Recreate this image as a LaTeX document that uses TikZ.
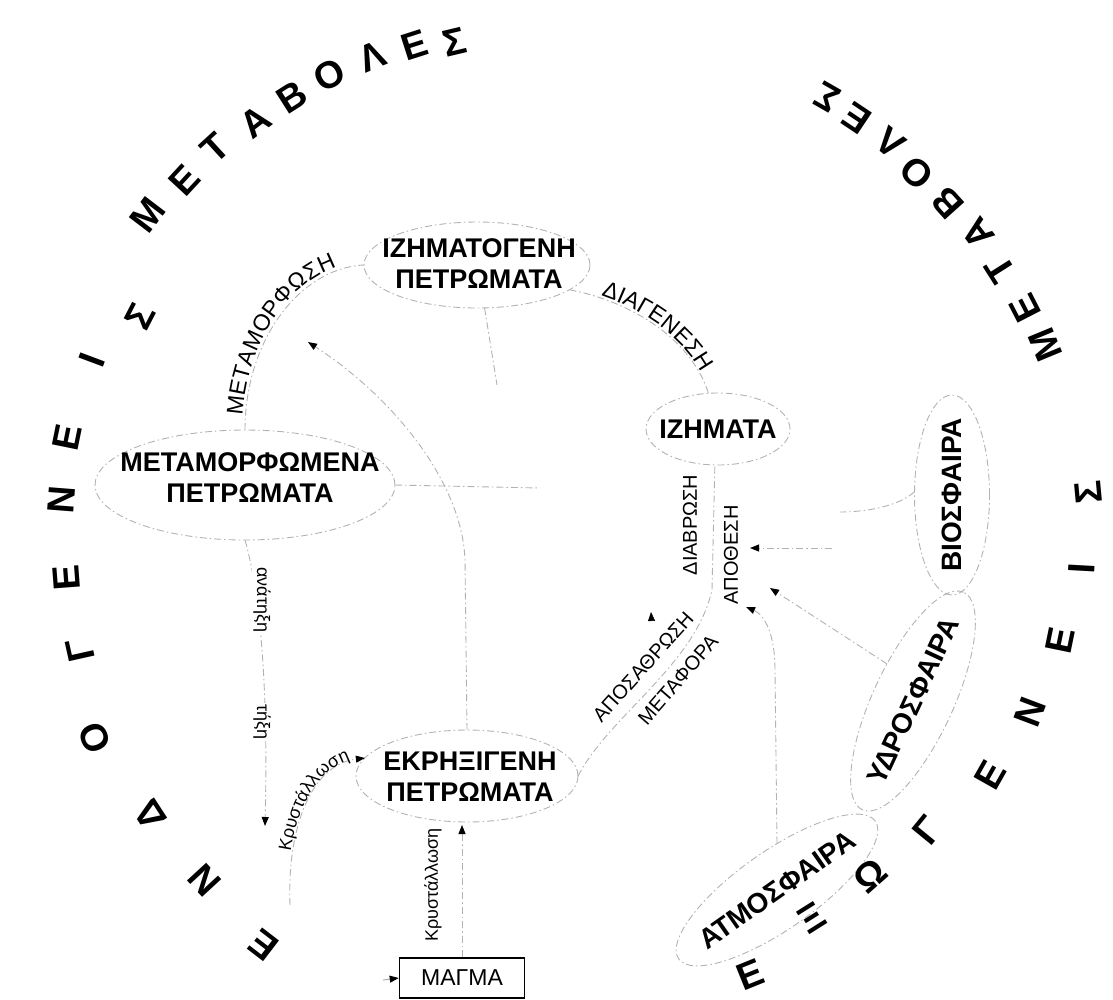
\documentclass[tikz,border=0pt]{standalone}
\usepackage{fontspec}
\setmainfont{Liberation Sans}
\usetikzlibrary{shapes.geometric,arrows.meta,decorations.text}
\newcommand{\lblfont}{\fontsize{20}{20}\selectfont}
\newcommand{\arcfont}{\fontsize{23}{23}\selectfont}
\newcommand{\lcfont}{\fontsize{18}{18}\selectfont}
\begin{document}
\begin{tikzpicture}[x=1pt,y=-1pt,
 conn/.style={draw=gray!60, line width=0.9pt, dash pattern=on 7pt off 3pt on 1.5pt off 3pt},
 tip/.style={-{Triangle[length=9pt,width=7pt,color=black]}},
 bubble/.style={ellipse, draw=gray!60, line width=0.9pt, dash pattern=on 7pt off 3pt on 1.5pt off 3pt, inner sep=0pt, outer sep=0pt},
 ntext/.style={align=center, font=\fontsize{27}{31}\selectfont\bfseries, inner sep=0pt},
 stext/.style={align=center, font=\fontsize{28}{28}\selectfont\bfseries, inner sep=0pt},
 lab/.style={font=\lblfont, inner sep=1pt},
 lcl/.style={font=\lcfont, inner sep=1.5pt, fill=white},
 big/.style={font=\fontsize{38}{38}\selectfont\bfseries, inner sep=0pt}]
\useasboundingbox (0,0) rectangle (1113,999);

% ---- ellipses (shapes) ----
\node[bubble, minimum width=226, minimum height=86] (izt) at (477,265) {};
\node[ntext] (izt-t) at (479,264) {ΙΖΗΜΑΤΟΓΕΝΗ\\ΠΕΤΡΩΜΑΤΑ};
\node[bubble, minimum width=144, minimum height=72] (izm) at (718,429) {};
\node[ntext] (izm-t) at (izm) {ΙΖΗΜΑΤΑ};
\node[bubble, minimum width=300, minimum height=110] (met) at (245,485) {};
\node[ntext] (met-t) at (250,478) {ΜΕΤΑΜΟΡΦΩΜΕΝΑ\\ΠΕΤΡΩΜΑΤΑ};
\node[bubble, minimum width=222, minimum height=92] (ekr) at (467,776) {};
\node[ntext] (ekr-t) at (470,777) {ΕΚΡΗΞΙΓΕΝΗ\\ΠΕΤΡΩΜΑΤΑ};
\node[bubble, minimum width=75, minimum height=200] (bio) at (952,495) {};
\node[stext, rotate=90] (bio-t) at (bio) {ΒΙΟΣΦΑΙΡΑ};
\node[bubble, rotate=65, minimum width=240, minimum height=80] (ydr) at (913,701) {};
\node[stext, rotate=65] (ydr-t) at (ydr) {ΥΔΡΟΣΦΑΙΡΑ};
\node[bubble, rotate=35, minimum width=240, minimum height=78] (atm) at (777,890) {};
\node[stext, rotate=35] (atm-t) at (atm) {ΑΤΜΟΣΦΑΙΡΑ};
\node[draw, line width=1.6pt, minimum width=125, minimum height=40, inner sep=0pt,
      font=\fontsize{23}{23}\selectfont] (mag) at (462,978) {ΜΑΓΜΑ};

% ---- free ends ----
\coordinate (melt) at (265,826);
\coordinate (cr0) at (290,905);
\coordinate (mtip) at (308,342);
\coordinate (ise) at (497,385);
\coordinate (mee) at (540,488);
\coordinate (bioe) at (840,512);
\coordinate (b1) at (832,548);
\coordinate (b2) at (750,548);
\coordinate (ytip) at (770,588);
\coordinate (atip) at (746,607);
\coordinate (w1) at (651.5,621);
\coordinate (w2) at (651,612);
\coordinate (min) at (383,980);

% ---- connectors ----
% metamorphosis arc
\draw[conn] (met.north) .. controls (245,340) and (300,268) .. (izt.180);
\path[decorate, decoration={text along path, text={|\arcfont\color{black}|ΜΕΤΑΜΟΡΦΩΣΗ},
  text align={left, left indent=14pt}, raise=3pt}]
  (met.north) .. controls (245,340) and (300,268) .. (izt.180);
% diagenesis arc
\draw[conn] (izt.-15) .. controls (625,300) and (690,335) .. (izm.105);
\path[decorate, decoration={text along path, text={|\arcfont\color{black}|ΔΙΑΓΕΝΕΣΗ},
  text align={left, left indent=32pt}, raise=2pt}]
  (izt.-15) .. controls (625,300) and (690,335) .. (izm.105);
% big right arc
\draw[conn] (ekr.east) .. controls (610,715) and (695,665) .. (712,590) -- (izm.265);
\node[lab, rotate=90] (l-diab) at (690,525) {ΔΙΑΒΡΩΣΗ};
\node[lab, rotate=90] (l-apoth) at (731,555) {ΑΠΟΘΕΣΗ};
\node[lab, rotate=48] (l-apos) at (643,667) {ΑΠΟΣΑΘΡΩΣΗ};
\node[lab, rotate=49] (l-metaf) at (678,680) {ΜΕΤΑΦΟΡΑ};
% melting
\draw[conn, tip] (met.south) .. controls (262,600) and (268,700) .. (melt);
\node[lcl, rotate=-90] (l-anat) at (262,600) {ανάτηξη};
\node[lcl, rotate=-90] (l-tix) at (262,722) {τήξη};
% crystallisation (left)
\draw[conn, tip] (cr0) .. controls (287,830) and (310,765) .. (ekr.170);
\path[decorate, decoration={text along path, text={|\lcfont\color{black}|Κρυστάλλωση},
  text align={right, right indent=14pt}, raise=2pt}]
  (cr0) .. controls (287,830) and (310,765) .. (ekr.170);
% magma to igneous
\draw[conn, tip, shorten >=3pt] (mag.north) -- (mag.north |- ekr.south);
\node[lab, font=\lcfont, rotate=90] (l-kr2) at (433,885) {Κρυστάλλωση};
\draw[gray!70, line width=0.9pt, tip] (min) -- (mag.west);
% igneous to metamorphism
\draw[conn, tip] (ekr.north) -- (465,560) .. controls (462,480) and (390,395) .. (mtip);
% other rock links
\draw[conn] (izt.-80) -- (ise);
\draw[conn] (met.east) -- (mee);
% spheres
\draw[conn] (bio.175) .. controls (900,505) and (870,512) .. (bioe);
\draw[conn, tip] (b1) -- (b2);
\draw[conn, tip] (ydr.60) -- (ytip);
\draw[conn, tip] (atm.55) -- (775,670) .. controls (775,635) and (765,615) .. (atip);
\draw[black, line width=0.5pt, tip] (w1) -- (w2);

% ---- outer arc letters ----
\foreach \x/\y/\r/\c [count=\i] in {
 263/945/142.5/Ε, 205/880/132.7/Ν, 150/815/123/Δ, 95/738/112.5/Ο, 80/650/102.6/Γ,
 67/578/94.3/Ε, 62/500/85.5/Ν, 67/437/78.5/Ε, 92/360/69.5/Ι, 140/316/62.7/Σ,
 148/215/52.7/Μ, 185/180/47.2/Ε, 215/148/42.5/Τ, 255/122/37.3/Α, 292/97/32.5/Β,
 330/75/27.7/Ο, 372/57/22.7/Λ, 415/45/17.8/Ε, 455/42/13.4/Σ,
 1045/345/112.5/Μ, 1025/308/117.2/Ε, 1000/270/122.4/Τ, 978/233/127.2/Α, 948/203/132/Β,
 917/173/137/Ο, 890/143/141.5/Λ, 857/118/146.2/Ε, 827/97/150.3/Σ,
 750/975/22/Ε, 812/918/32.2/Ξ, 870/875/41.5/Ω, 928/830/50.7/Γ, 990/775/60.5/Ε,
 1030/712/69.3/Ν, 1060/640/78.4/Ε, 1082/568/86.8/Ι, 1088/492/95.3/Σ}
 \node[big, rotate=\r] (out\i) at (\x,\y) {\c};
\end{tikzpicture}
\end{document}
